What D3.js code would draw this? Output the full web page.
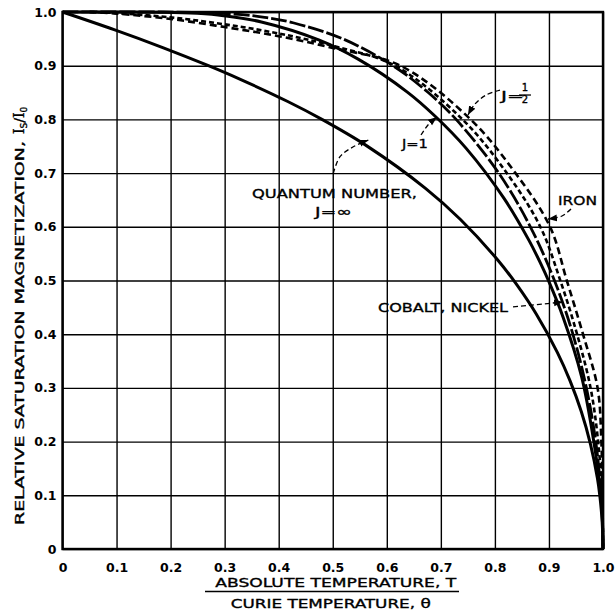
<!DOCTYPE html>
<html><head><meta charset="utf-8">
<script src="https://cdn.jsdelivr.net/npm/d3@7/dist/d3.min.js"></script>
<style>body{margin:0;background:#fff}svg{display:block}</style>
</head><body>
<svg id="chart" width="616" height="615"></svg>
<script>
// ---- data ----
const xTicks = [0,0.1,0.2,0.3,0.4,0.5,0.6,0.7,0.8,0.9,1.0];
const xTickLabels = ["0","0.1","0.2","0.3","0.4","0.5","0.6","0.7","0.8","0.9","1.0"];
const yTicks = [0,0.1,0.2,0.3,0.4,0.5,0.6,0.7,0.8,0.9,1.0];
const yTickLabels = ["0","0.1","0.2","0.3","0.4","0.5","0.6","0.7","0.8","0.9","1.0"];

// J = infinity (classical)
const jInfT = [0,0.0967,0.1867,0.27,0.328,0.4167,0.48,0.563,0.6716,0.7363,0.806,0.8414,0.8762,0.9155,0.9391,0.9598,0.9768,0.9896,0.9941,0.9985,1.0];
const jInfM = [1,0.9667,0.9333,0.9,0.875,0.8333,0.80,0.7507,0.6716,0.6136,0.5373,0.4908,0.4381,0.3662,0.313,0.2559,0.1954,0.132,0.0994,0.0499,0];
// J = 1
const j1T = [0,0.1874,0.2494,0.298,0.368,0.474,0.547,0.638,0.690,0.7465,0.8166,0.8628,0.885,0.899,0.926,0.9606,0.9835,0.9963,0.9991,1.0];
const j1M = [1,0.9997,0.9975,0.9932,0.9814,0.948,0.9122,0.8509,0.8054,0.7465,0.6533,0.5752,0.531,0.5,0.4322,0.3202,0.1967,0.0996,0.05,0];
// J = 1/2
const jHalfT = [0,0.2629,0.3323,0.374,0.4265,0.5186,0.6113,0.6766,0.7282,0.8071,0.8656,0.9102,0.9443,0.9693,0.9866,0.9967,0.9992,1.0];
const jHalfM = [1,0.999,0.995,0.99,0.98,0.95,0.9,0.85,0.8,0.7,0.6,0.5,0.4,0.3,0.2,0.1,0.05,0];
// Cobalt, Nickel (experimental)
const coT = [0.05,0.1,0.2,0.3,0.4,0.5,0.615,0.74,0.822,0.884,0.921,0.952,0.977,0.991,0.998,1.0];
const coM = [1.0,0.998,0.99,0.977,0.96,0.937,0.9,0.8,0.7,0.6,0.5,0.4,0.3,0.2,0.1,0];
// Iron (experimental)
const feT = [0.05,0.1,0.2,0.3,0.4,0.5,0.625,0.755,0.838,0.902,0.933,0.963,0.99,0.997,0.999,1.0];
const feM = [1.0,0.997,0.987,0.972,0.955,0.933,0.9,0.8,0.7,0.6,0.5,0.4,0.3,0.2,0.1,0];

// ---- layout ----
const W = 616, H = 615;
const margin = {left:62.5, right:13, top:12, bottom:66};
const svg = d3.select("#chart");
const x = d3.scaleLinear().domain([0,1]).range([margin.left, W - margin.right]);
const y = d3.scaleLinear().domain([0,1]).range([H - margin.bottom, margin.top]);
const FONT = "'DejaVu Sans', 'Liberation Sans', sans-serif";

// grid
const gx = svg.append("g").attr("transform",`translate(0,${y(0)})`)
  .call(d3.axisBottom(x).tickValues(xTicks).tickSize(-(y(0)-y(1))).tickFormat(""));
gx.select(".domain").remove();
gx.selectAll("line").attr("stroke","#000").attr("stroke-width",1.4);
const gy = svg.append("g").attr("transform",`translate(${x(0)},0)`)
  .call(d3.axisLeft(y).tickValues(yTicks).tickSize(-(x(1)-x(0))).tickFormat(""));
gy.select(".domain").remove();
gy.selectAll("line").attr("stroke","#000").attr("stroke-width",1.4);

// frame
svg.append("rect").attr("x",x(0)).attr("y",y(1)).attr("width",x(1)-x(0)).attr("height",y(0)-y(1))
  .attr("fill","none").attr("stroke","#000").attr("stroke-width",2.4);

// tick labels
const ax = svg.append("g").attr("transform",`translate(0,${y(0)})`)
  .call(d3.axisBottom(x).tickValues(xTicks).tickFormat((d,i)=>xTickLabels[i]).tickSize(0).tickPadding(14));
ax.select(".domain").remove();
ax.selectAll("text").attr("font-family",FONT).attr("font-weight","bold").attr("font-size",12.5).attr("fill","#000");
const ay = svg.append("g").attr("transform",`translate(${x(0)},0)`)
  .call(d3.axisLeft(y).tickValues(yTicks).tickFormat((d,i)=>yTickLabels[i]).tickSize(0).tickPadding(6));
ay.select(".domain").remove();
ay.selectAll("text").attr("font-family",FONT).attr("font-weight","bold").attr("font-size",12.5).attr("fill","#000");

// curves
const line = d3.line().x(d=>x(d[0])).y(d=>y(d[1])).curve(d3.curveCatmullRom.alpha(0.5));
const series = [
  {t:jInfT, m:jInfM, dash:null, w:3},
  {t:j1T, m:j1M, dash:null, w:3},
  {t:jHalfT, m:jHalfM, dash:"16,3", w:2.8},
  {t:coT, m:coM, dash:"5,3", w:2.6},
  {t:feT, m:feM, dash:"7,4", w:2.6}
];
series.forEach(s=>{
  svg.append("path").datum(s.t.map((t,i)=>[t,s.m[i]]))
    .attr("d",line).attr("fill","none").attr("stroke","#000")
    .attr("stroke-width",s.w).attr("stroke-dasharray",s.dash)
    .attr("stroke-linejoin","round");
});

// arrow marker
svg.append("defs").append("marker").attr("id","arr")
  .attr("markerUnits","userSpaceOnUse").attr("markerWidth",10).attr("markerHeight",8)
  .attr("refX",9).attr("refY",4).attr("orient","auto")
  .append("path").attr("d","M0,0.5 L9,4 L0,7.5 Z").attr("fill","#000");

// annotation leaders (data coordinates)
const leaders = [
  [[0.8094,0.8547],[0.7836,0.8454],[0.7632,0.8287],[0.7502,0.8082]],
  [[0.6633,0.7709],[0.6762,0.7896],[0.6929,0.8045]],
  [[0.501,0.6996],[0.5134,0.7305],[0.538,0.749],[0.5658,0.7616]],
  [[0.9408,0.6331],[0.9241,0.6201],[0.8982,0.6145]],
  [[0.8335,0.4507],[0.926,0.46]]
];
const lline = d3.line().x(d=>x(d[0])).y(d=>y(d[1])).curve(d3.curveCatmullRom);
leaders.forEach(p=>{
  svg.append("path").attr("d",lline(p)).attr("fill","none").attr("stroke","#000")
    .attr("stroke-width",1.3).attr("stroke-dasharray","5,3").attr("marker-end","url(#arr)");
});

// annotation texts
function label(txt, t, m, anchor, len, size){
  const el = svg.append("text").attr("x",x(t)).attr("y",y(m)).attr("text-anchor",anchor)
    .attr("font-family",FONT).attr("font-size",size||12.5).attr("fill","#000")
    .attr("stroke","#000").attr("stroke-width",0.35).text(txt);
  if(len) el.attr("textLength",len).attr("lengthAdjust","spacingAndGlyphs");
  return el;
}
label("QUANTUM NUMBER,",0.5032,0.6536,"middle",165);
label("J=\u221E",0.5014,0.6201,"middle",37);
label("J=1",0.6281,0.7467,"start",26);
label("J=",0.8113,0.8361,"start",23);
label("1",0.8557,0.8529,"middle",null,10);
label("2",0.8557,0.8306,"middle",null,10);
svg.append("line").attr("x1",x(0.8447)).attr("x2",x(0.8667)).attr("y1",y(0.8454)).attr("y2",y(0.8454))
  .attr("stroke","#000").attr("stroke-width",1.3);
label("IRON",0.9167,0.6406,"start",39);
label("COBALT, NICKEL",0.5837,0.4413,"start",130);

// axis titles
const xt = svg.append("g").attr("font-family",FONT).attr("fill","#000");
xt.append("text").attr("x",(x(0)+x(1))/2 + 3).attr("y",587).attr("text-anchor","middle")
  .attr("font-size",12.5).attr("stroke","#000").attr("stroke-width",0.35)
  .attr("textLength",241).attr("lengthAdjust","spacingAndGlyphs").text("ABSOLUTE TEMPERATURE, T");
xt.append("line").attr("x1",205).attr("x2",459).attr("y1",591.5).attr("y2",591.5).attr("stroke","#000").attr("stroke-width",1.5);
xt.append("text").attr("x",(x(0)+x(1))/2 - 2).attr("y",608).attr("text-anchor","middle")
  .attr("font-size",12.5).attr("stroke","#000").attr("stroke-width",0.35)
  .attr("textLength",200).attr("lengthAdjust","spacingAndGlyphs").text("CURIE TEMPERATURE, \u03B8");

const yt = svg.append("text").attr("transform","translate(24,525) rotate(-90)")
  .attr("font-family",FONT).attr("font-size",12.5).attr("fill","#000")
  .attr("stroke","#000").attr("stroke-width",0.35);
yt.append("tspan").attr("textLength",384).attr("lengthAdjust","spacingAndGlyphs").text("RELATIVE SATURATION MAGNETIZATION,");
yt.append("tspan").attr("dx",7).attr("font-family","'DejaVu Serif', serif").attr("font-size",14).text("I");
yt.append("tspan").attr("dy",3).attr("font-size",9).text("S");
yt.append("tspan").attr("dy",-3).attr("font-size",14).text("/");
yt.append("tspan").attr("font-family","'DejaVu Serif', serif").attr("font-size",14).text("I");
yt.append("tspan").attr("dy",3).attr("font-size",9).text("0");
</script>
</body></html>
